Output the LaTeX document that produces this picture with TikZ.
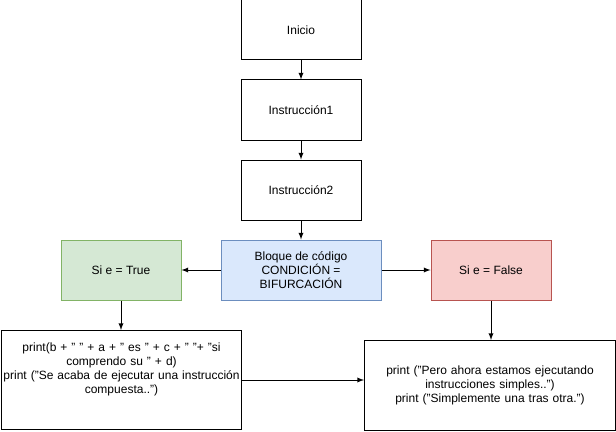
\documentclass[tikz,border=0pt]{standalone}
\usepackage{fontspec}
\setmainfont{Liberation Sans}
\usetikzlibrary{positioning}
\usetikzlibrary{shapes,arrows}

\definecolor{blueFill}{HTML}{DAE8FC}
\definecolor{blueLine}{HTML}{6C8EBF}
\definecolor{greenFill}{HTML}{D5E8D4}
\definecolor{greenLine}{HTML}{82B366}
\definecolor{redFill}{HTML}{F8CECC}
\definecolor{redLine}{HTML}{B85450}

\tikzset{
  block/.style={draw, line width=0.75pt, align=center, font=\fontsize{9pt}{10.5pt}\selectfont,
    minimum width=90pt, minimum height=45pt, inner sep=1pt},
  flow/.style={line width=0.75pt, -latex}
}

\begin{document}
\begin{tikzpicture}[x=0.75pt, y=-0.75pt]
\useasboundingbox (0,0) rectangle (616,431);

% main column
\node[block](inicio) at (301, 30) {Inicio};
\node[block](instr1) at (301, 110) {Instrucción1};
\node[block](instr2) at (301, 190) {Instrucción2};
\node[block, minimum width=120pt, fill=blueFill, draw=blueLine](bloque) at (301, 270) {Bloque de código\\CONDICIÓN =\\BIFURCACIÓN};

% branches
\node[block, fill=greenFill, draw=greenLine](siTrue) at (121, 270) {Si e = True};
\node[block, fill=redFill, draw=redLine](siFalse) at (491, 270) {Si e = False};

\node[block, minimum width=180pt, minimum height=74.25pt, text width=178pt, anchor=north west](compuesta) at (1, 330)
  {print(b + " " + a + " es " + c + " "+ "si\\comprendo su " + d)\\print ("Se acaba de ejecutar una instrucción\\compuesta..")\\[7pt]\mbox{}};
\node[block, minimum width=188.25pt, minimum height=67.5pt, text width=186pt, anchor=north west](simples) at (364, 340)
  {print ("Pero ahora estamos ejecutando\\instrucciones simples..")\\print ("Simplemente una tras otra.")};

% connectors
\draw[flow] (inicio) -- (instr1);
\draw[flow] (instr1) -- (instr2);
\draw[flow] (instr2) -- (bloque);
\draw[flow] (bloque) -- (siTrue);
\draw[flow] (bloque) -- (siFalse);
\draw[flow] (siTrue) -- (compuesta.north -| siTrue);
\draw[flow] (siFalse) -- (simples.north -| siFalse);
\draw[flow] (compuesta.east |- 0,380) -- (simples.west |- 0,380);

\end{tikzpicture}
\end{document}
